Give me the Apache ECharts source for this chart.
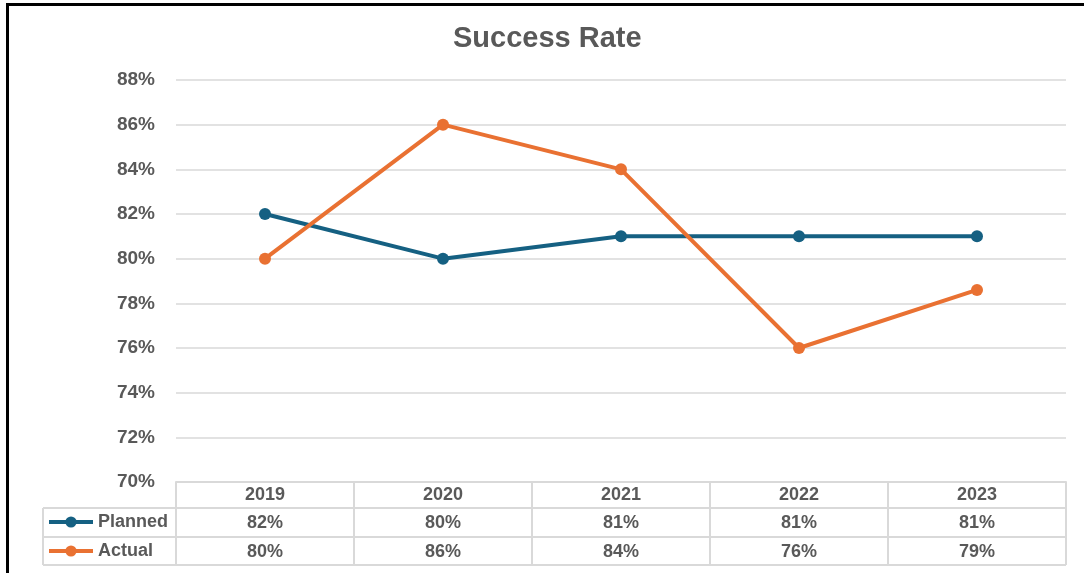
<!DOCTYPE html>
<html>
<head>
<meta charset="utf-8">
<script src="https://cdn.jsdelivr.net/npm/echarts@6/dist/echarts.min.js"></script>
<style>
html,body{margin:0;padding:0;background:#fff;}
#chart{width:1084px;height:573px;}
</style>
</head>
<body>
<div id="chart"></div>
<script>
const categories = ['2019', '2020', '2021', '2022', '2023'];
const plannedValues = [82, 80, 81, 81, 81];
const actualValues = [80, 86, 84, 76, 78.6];
const seriesNames = ['Planned', 'Actual'];
const yTicks = { min: 70, max: 88, interval: 2 };

const FONT = '"Liberation Sans", Arial, sans-serif';
const TXT = '#595959';
const GRIDC = '#d9d9d9';
const pct = v => Math.round(v) + '%';

const chart = echarts.init(document.getElementById('chart'), null, { renderer: 'canvas' });

const option = {
  backgroundColor: '#ffffff',
  animation: false,
  title: {
    text: 'Success Rate',
    left: 453,
    top: 24,
    padding: 0,
    textStyle: { fontFamily: FONT, fontWeight: 'bold', fontSize: 29, color: TXT }
  },
  legend: {
    orient: 'vertical',
    left: 47,
    top: 513,
    padding: 0,
    itemWidth: 44,
    itemHeight: 14,
    itemGap: 11,
    data: seriesNames,
    lineStyle: { width: 4 },
    textStyle: { fontFamily: FONT, fontWeight: 'bold', fontSize: 18, color: TXT }
  },
  grid: { left: 176, right: 18, top: 80, bottom: 91 },
  xAxis: [
    {
      type: 'category',
      data: categories,
      boundaryGap: true,
      position: 'bottom',
      axisLine: { show: true, lineStyle: { color: GRIDC, width: 2 } },
      axisTick: { show: true, interval: 0, length: 83, lineStyle: { color: GRIDC, width: 2 } },
      axisLabel: { interval: 0, margin: 13, verticalAlign: 'middle', fontFamily: FONT, fontWeight: 'bold', fontSize: 18, color: TXT }
    },
    {
      type: 'category',
      data: plannedValues.map(pct),
      position: 'bottom',
      offset: 0,
      axisLine: { show: false },
      axisTick: { show: false },
      axisLabel: { interval: 0, margin: 41, verticalAlign: 'middle', fontFamily: FONT, fontWeight: 'bold', fontSize: 18, color: TXT }
    },
    {
      type: 'category',
      data: actualValues.map(pct),
      position: 'bottom',
      offset: 0,
      axisLine: { show: false },
      axisTick: { show: false },
      axisLabel: { interval: 0, margin: 70, verticalAlign: 'middle', fontFamily: FONT, fontWeight: 'bold', fontSize: 18, color: TXT }
    }
  ],
  yAxis: {
    type: 'value',
    min: yTicks.min,
    max: yTicks.max,
    interval: yTicks.interval,
    axisLine: { show: false },
    axisTick: { show: false },
    axisLabel: { formatter: '{value}%', margin: 21, fontFamily: FONT, fontWeight: 'bold', fontSize: 19, color: TXT },
    splitLine: { show: true, lineStyle: { color: GRIDC, width: 1.5 } }
  },
  series: [
    {
      name: seriesNames[0],
      type: 'line',
      data: plannedValues,
      xAxisIndex: 0,
      symbol: 'circle',
      symbolSize: 12,
      color: '#156082',
      lineStyle: { width: 4, color: '#156082' },
      itemStyle: { color: '#156082' },
      z: 3
    },
    {
      name: seriesNames[1],
      type: 'line',
      data: actualValues,
      xAxisIndex: 0,
      symbol: 'circle',
      symbolSize: 12,
      color: '#E97132',
      lineStyle: { width: 4, color: '#E97132' },
      itemStyle: { color: '#E97132' },
      z: 4
    }
  ],
  graphic: [
    { type: 'line', shape: { x1: 43, y1: 508, x2: 1066, y2: 508 }, style: { stroke: GRIDC, lineWidth: 2 }, z: 0 },
    { type: 'line', shape: { x1: 43, y1: 537, x2: 1066, y2: 537 }, style: { stroke: GRIDC, lineWidth: 2 }, z: 0 },
    { type: 'line', shape: { x1: 43, y1: 565, x2: 1066, y2: 565 }, style: { stroke: GRIDC, lineWidth: 2 }, z: 0 },
    { type: 'line', shape: { x1: 43, y1: 508, x2: 43, y2: 565 }, style: { stroke: GRIDC, lineWidth: 2 }, z: 0 },
    { type: 'rect', shape: { x: 7.5, y: 4.5, width: 2000, height: 2000 }, style: { fill: 'none', stroke: '#000', lineWidth: 3 }, z: 10 }
  ]
};

chart.setOption(option);
</script>
</body>
</html>
